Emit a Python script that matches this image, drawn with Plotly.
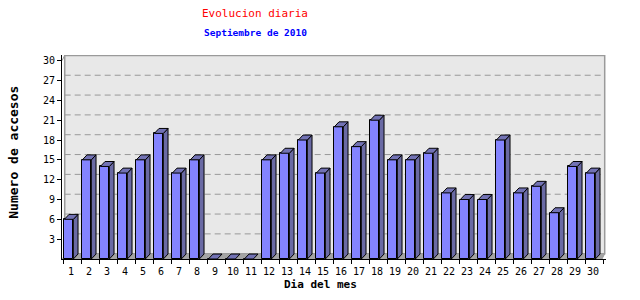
import plotly.graph_objects as go

days = list(range(1, 31))
visits = [6, 15, 14, 13, 15, 19, 13, 15, 0, 0, 0, 15, 16, 18, 13, 20,
          17, 21, 15, 15, 16, 10, 9, 9, 18, 10, 11, 7, 14, 13]
y_ticks = [3, 6, 9, 12, 15, 18, 21, 24, 27, 30]

title = "Evolucion diaria"
subtitle = "Septiembre de 2010"
x_title = "Dia del mes"
y_title = "Numero de accesos"

FRONT = "#8484ff"
SIDE = "#6a6aa4"
TOP = "#7272b4"
FONT = "DejaVu Sans Mono"

# geometry (data units)
half_w = 0.25
shift = -0.12
ddx = 0.26
ddy = 0.75
pdx = 0.15
pdy = 0.8
x_lo, x_hi = 0.5, 30.5
y_top = 30

fig = go.Figure()

fig.add_trace(go.Bar(
    x=[d + shift for d in days], y=visits, width=2 * half_w,
    marker=dict(color=FRONT, line=dict(color="black", width=1)),
    hoverinfo="skip", showlegend=False))

tx, ty, sx, sy = [], [], [], []
for d, v in zip(days, visits):
    l = d + shift - half_w
    r = d + shift + half_w
    tx += [l, r, r + ddx, l + ddx, l, None]
    ty += [v, v, v + ddy, v + ddy, v, None]
    if v > 0:
        sx += [r, r + ddx, r + ddx, r, r, None]
        sy += [0, ddy, v + ddy, v, 0, None]

fig.add_trace(go.Scatter(x=sx, y=sy, mode="lines", fill="toself", fillcolor=SIDE,
                         line=dict(color="black", width=1), hoverinfo="skip", showlegend=False))
fig.add_trace(go.Scatter(x=tx, y=ty, mode="lines", fill="toself", fillcolor=TOP,
                         line=dict(color="black", width=1), hoverinfo="skip", showlegend=False))

shapes = []
# back panel
shapes.append(dict(type="rect", xref="x", yref="y", x0=x_lo + pdx, x1=x_hi + pdx,
                   y0=pdy, y1=y_top + pdy, fillcolor="#e8e8e8",
                   line=dict(color="#9a9a9a", width=1.5), layer="below"))
# floor
shapes.append(dict(type="path", xref="x", yref="y",
                   path=f"M {x_lo},0 L {x_hi},0 L {x_hi + pdx},{pdy} L {x_lo + pdx},{pdy} Z",
                   fillcolor="#a4a4a4", line=dict(width=0), layer="below"))
# grid lines on back panel
for v in y_ticks[:-1]:
    shapes.append(dict(type="line", xref="x", yref="y", x0=x_lo + pdx, x1=x_hi + pdx,
                       y0=v + pdy, y1=v + pdy,
                       line=dict(color="#999999", width=1, dash="6px,4px"),
                       layer="below"))
# left wall top diagonal
shapes.append(dict(type="line", xref="x", yref="y", x0=x_lo, x1=x_lo + pdx,
                   y0=y_top, y1=y_top + pdy, line=dict(color="#9a9a9a", width=1), layer="below"))
shapes.append(dict(type="line", xref="x", yref="y", x0=x_hi, x1=x_hi + pdx,
                   y0=0, y1=pdy, line=dict(color="#9a9a9a", width=1), layer="below"))

annotations = [
    dict(text=title, x=0.3548, y=1.201, xref="paper", yref="paper", showarrow=False,
         xanchor="center", yanchor="middle", font=dict(family=FONT, size=11, color="red")),
    dict(text="<b>" + subtitle + "</b>", x=0.3548, y=1.1127, xref="paper", yref="paper",
         showarrow=False, xanchor="center", yanchor="middle",
         font=dict(family=FONT, size=9.5, color="blue")),
    dict(text="<b>" + y_title + "</b>", x=-0.0906, y=0.5245, xref="paper", yref="paper",
         showarrow=False, textangle=-90, xanchor="center", yanchor="middle",
         font=dict(family=FONT, size=13, color="black")),
    dict(text="<b>" + x_title + "</b>", x=0.475, y=-0.124, xref="paper", yref="paper",
         showarrow=False, xanchor="center", yanchor="middle",
         font=dict(family=FONT, size=11, color="black")),
]

fig.update_layout(
    width=640, height=300,
    margin=dict(l=62, r=34, t=55, b=41),
    paper_bgcolor="white", plot_bgcolor="white",
    shapes=shapes, annotations=annotations,
    bargap=0,
    xaxis=dict(range=[0.5, 0.5 + 544 / 18], tickvals=days, ticktext=[str(d) for d in days],
               ticks="", showgrid=False, zeroline=False, showline=True, linecolor="black",
               linewidth=1, ticklabelstandoff=3,
               tickfont=dict(family=FONT, size=10, color="black"),
               minor=dict(tickvals=[d + 0.61 for d in [0] + days], ticks="outside",
                          ticklen=4, tickcolor="black", showgrid=False)),
    yaxis=dict(range=[0, 204 / 6.61], tickvals=y_ticks, ticks="outside", ticklen=4,
               tickcolor="black", showgrid=False, zeroline=False, showline=True,
               linecolor="black", linewidth=1,
               tickfont=dict(family=FONT, size=10, color="black")),
)

fig.write_html("out.html")
